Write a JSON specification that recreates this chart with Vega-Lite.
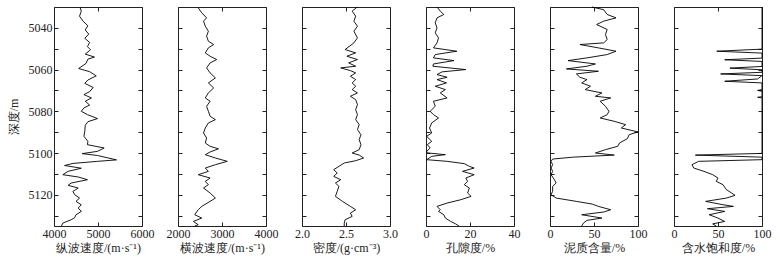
{
"$schema": "https://vega.github.io/schema/vega-lite/v6.json",
"background": "white",
"padding": {"left": 6, "right": 4, "top": 4, "bottom": 5},
"bounds": "flush",
"spacing": 36,
"datasets": {
"vp": [{"d":5030,"v":4590},{"d":5032,"v":4620},{"d":5034.4,"v":4580},{"d":5036.8,"v":4660},{"d":5039,"v":4770},{"d":5041,"v":4710},{"d":5043,"v":4790},{"d":5045,"v":4700},{"d":5047,"v":4810},{"d":5049,"v":4760},{"d":5050.5,"v":4830},{"d":5052.6,"v":4710},{"d":5054,"v":4920},{"d":5055,"v":4770},{"d":5057,"v":4730},{"d":5059.5,"v":4560},{"d":5061,"v":4810},{"d":5063,"v":4960},{"d":5065,"v":4770},{"d":5066.6,"v":4700},{"d":5068.6,"v":4890},{"d":5070.6,"v":4810},{"d":5072,"v":4680},{"d":5073.6,"v":4850},{"d":5075.2,"v":4710},{"d":5077,"v":4810},{"d":5078.4,"v":4680},{"d":5080,"v":4620},{"d":5081.6,"v":4760},{"d":5083.5,"v":4990},{"d":5085,"v":4770},{"d":5086.7,"v":4710},{"d":5089.6,"v":4700},{"d":5092,"v":4680},{"d":5094.4,"v":4770},{"d":5096,"v":4760},{"d":5097.6,"v":5140},{"d":5099.2,"v":4990},{"d":5100.3,"v":4640},{"d":5101.2,"v":4990},{"d":5103.3,"v":5420},{"d":5104,"v":4990},{"d":5105,"v":4430},{"d":5106,"v":4240},{"d":5107.3,"v":4620},{"d":5108.8,"v":4320},{"d":5110.4,"v":4200},{"d":5111.5,"v":4550},{"d":5112.8,"v":4760},{"d":5114.4,"v":4390},{"d":5115.5,"v":4320},{"d":5116.8,"v":4550},{"d":5118.4,"v":4430},{"d":5120,"v":4470},{"d":5121.6,"v":4580},{"d":5123.2,"v":4500},{"d":5124.8,"v":4620},{"d":5126.4,"v":4550},{"d":5128,"v":4620},{"d":5129.6,"v":4500},{"d":5131,"v":4470},{"d":5132,"v":4390},{"d":5133.6,"v":4200},{"d":5135,"v":4170}],
"vs": [{"d":5030.4,"v":2460},{"d":5032.8,"v":2540},{"d":5035.2,"v":2650},{"d":5036.8,"v":2580},{"d":5039.2,"v":2620},{"d":5041.6,"v":2690},{"d":5044,"v":2650},{"d":5046.4,"v":2690},{"d":5048,"v":2810},{"d":5049.6,"v":2690},{"d":5052,"v":2620},{"d":5053.6,"v":2730},{"d":5055.2,"v":2880},{"d":5056.8,"v":2730},{"d":5059.2,"v":2650},{"d":5061.6,"v":2730},{"d":5064,"v":2850},{"d":5066.4,"v":2690},{"d":5068.8,"v":2810},{"d":5071.2,"v":2690},{"d":5073.6,"v":2620},{"d":5075.2,"v":2730},{"d":5077.6,"v":2650},{"d":5080,"v":2690},{"d":5082.4,"v":2730},{"d":5084,"v":2850},{"d":5085.6,"v":2690},{"d":5088,"v":2620},{"d":5090.4,"v":2580},{"d":5092.8,"v":2650},{"d":5095.2,"v":2620},{"d":5096.8,"v":2730},{"d":5098,"v":2920},{"d":5099.5,"v":2730},{"d":5100.8,"v":2620},{"d":5102.4,"v":2850},{"d":5104,"v":3120},{"d":5105.6,"v":2850},{"d":5107.2,"v":2620},{"d":5108.8,"v":2690},{"d":5110.4,"v":2460},{"d":5112,"v":2730},{"d":5113.6,"v":2620},{"d":5115.2,"v":2690},{"d":5116.8,"v":2580},{"d":5119.2,"v":2730},{"d":5121.6,"v":2850},{"d":5123.2,"v":2730},{"d":5125.6,"v":2540},{"d":5127.2,"v":2460},{"d":5129.6,"v":2380},{"d":5131.2,"v":2540},{"d":5132.8,"v":2350},{"d":5134.4,"v":2460},{"d":5135,"v":2380}],
"den": [{"d":5030,"v":2.627},{"d":5032,"v":2.57},{"d":5034.4,"v":2.61},{"d":5036.8,"v":2.59},{"d":5039.2,"v":2.63},{"d":5041.6,"v":2.59},{"d":5044.8,"v":2.63},{"d":5047.2,"v":2.59},{"d":5050.4,"v":2.49},{"d":5052,"v":2.61},{"d":5053.6,"v":2.51},{"d":5055.2,"v":2.63},{"d":5056.8,"v":2.53},{"d":5058.4,"v":2.61},{"d":5059.2,"v":2.44},{"d":5060.5,"v":2.55},{"d":5061.6,"v":2.61},{"d":5063.2,"v":2.55},{"d":5064.8,"v":2.61},{"d":5066.4,"v":2.57},{"d":5068,"v":2.61},{"d":5069.6,"v":2.57},{"d":5071.2,"v":2.63},{"d":5072.8,"v":2.55},{"d":5074.4,"v":2.61},{"d":5076.8,"v":2.63},{"d":5079.2,"v":2.61},{"d":5081.6,"v":2.63},{"d":5084,"v":2.61},{"d":5086.4,"v":2.65},{"d":5088.8,"v":2.63},{"d":5091.2,"v":2.67},{"d":5093.6,"v":2.65},{"d":5096,"v":2.67},{"d":5098.4,"v":2.65},{"d":5100,"v":2.57},{"d":5101,"v":2.65},{"d":5102.4,"v":2.7},{"d":5103.7,"v":2.61},{"d":5104.8,"v":2.48},{"d":5106.4,"v":2.42},{"d":5108,"v":2.36},{"d":5109.6,"v":2.4},{"d":5111.2,"v":2.36},{"d":5112.8,"v":2.44},{"d":5114.4,"v":2.38},{"d":5116,"v":2.42},{"d":5118.4,"v":2.4},{"d":5120.8,"v":2.38},{"d":5123.2,"v":2.46},{"d":5125.6,"v":2.55},{"d":5127.2,"v":2.61},{"d":5128.8,"v":2.55},{"d":5130.4,"v":2.57},{"d":5132,"v":2.49},{"d":5133.6,"v":2.48},{"d":5135,"v":2.48}],
"por": [{"d":5030,"v":5},{"d":5032,"v":6.5},{"d":5033.6,"v":8.1},{"d":5035.2,"v":5},{"d":5037.6,"v":4.2},{"d":5040,"v":5},{"d":5042.4,"v":4.2},{"d":5044.8,"v":5.7},{"d":5047.2,"v":5},{"d":5049.6,"v":3.4},{"d":5051.2,"v":14},{"d":5052.8,"v":4.2},{"d":5054.4,"v":3.4},{"d":5055.7,"v":12.7},{"d":5057.3,"v":3.4},{"d":5058.4,"v":3.1},{"d":5060,"v":18.1},{"d":5061.1,"v":7.3},{"d":5062.4,"v":5},{"d":5063.7,"v":9.6},{"d":5064.8,"v":5},{"d":5066.4,"v":9.3},{"d":5068,"v":4.2},{"d":5069.6,"v":8.8},{"d":5071.2,"v":6.5},{"d":5073.6,"v":9.6},{"d":5075.2,"v":3.4},{"d":5077.6,"v":4.2},{"d":5080,"v":1.9},{"d":5081.6,"v":3.4},{"d":5083.2,"v":5.7},{"d":5085.6,"v":2.6},{"d":5088,"v":1.6},{"d":5090.4,"v":2.6},{"d":5092,"v":0.3},{"d":5094.4,"v":2.6},{"d":5096,"v":0.6},{"d":5097.6,"v":1.9},{"d":5099.2,"v":0.3},{"d":5100,"v":1},{"d":5100.8,"v":8.8},{"d":5101.6,"v":2.6},{"d":5103.2,"v":0.3},{"d":5104,"v":9.6},{"d":5105.1,"v":17.4},{"d":5106.4,"v":19.7},{"d":5107.2,"v":21.9},{"d":5108.8,"v":16.6},{"d":5110.4,"v":21.9},{"d":5112,"v":18.1},{"d":5113.6,"v":18.9},{"d":5115.2,"v":17.4},{"d":5116.8,"v":19.7},{"d":5119.2,"v":18.9},{"d":5120.8,"v":20.5},{"d":5122.4,"v":15.8},{"d":5124,"v":9.6},{"d":5125.6,"v":5},{"d":5127.2,"v":6.5},{"d":5128,"v":5.7},{"d":5129.6,"v":8.1},{"d":5131.2,"v":8.8},{"d":5132.8,"v":11.2},{"d":5134,"v":13.5},{"d":5135,"v":15}],
"sh": [{"d":5030,"v":47.7},{"d":5031.3,"v":61},{"d":5033.6,"v":65},{"d":5035.2,"v":75},{"d":5036.8,"v":61},{"d":5038.4,"v":53},{"d":5040.8,"v":65},{"d":5043.2,"v":63},{"d":5045.6,"v":65},{"d":5047.2,"v":61},{"d":5048,"v":34},{"d":5049.6,"v":55},{"d":5051.2,"v":75},{"d":5052.8,"v":65},{"d":5054.4,"v":42},{"d":5055.7,"v":20.5},{"d":5057.3,"v":51.6},{"d":5058.4,"v":42},{"d":5059.7,"v":18.6},{"d":5060.8,"v":55},{"d":5062.1,"v":30},{"d":5063.7,"v":34},{"d":5064.8,"v":42},{"d":5066.4,"v":36},{"d":5068,"v":46},{"d":5069.6,"v":40},{"d":5071.2,"v":59},{"d":5072.8,"v":51.6},{"d":5073.6,"v":69},{"d":5075.2,"v":57},{"d":5077.6,"v":63},{"d":5080,"v":67},{"d":5081.6,"v":65},{"d":5083.2,"v":57},{"d":5084.8,"v":73},{"d":5086.4,"v":86},{"d":5088,"v":81},{"d":5089.9,"v":100},{"d":5091.2,"v":90},{"d":5093.1,"v":88},{"d":5095.2,"v":79},{"d":5096.8,"v":77},{"d":5098.4,"v":63},{"d":5100,"v":51.6},{"d":5101,"v":73},{"d":5102,"v":26},{"d":5102.9,"v":3},{"d":5104,"v":1.2},{"d":5105.6,"v":3},{"d":5107.2,"v":1.2},{"d":5108.8,"v":3},{"d":5110.4,"v":1.2},{"d":5112.8,"v":5},{"d":5114.4,"v":7},{"d":5116,"v":3},{"d":5118.4,"v":3},{"d":5120,"v":1.2},{"d":5121.6,"v":7},{"d":5123.2,"v":30},{"d":5124.5,"v":48},{"d":5125.6,"v":55},{"d":5127.2,"v":69},{"d":5128.3,"v":61},{"d":5129.6,"v":36},{"d":5131.2,"v":59},{"d":5132.3,"v":42},{"d":5133.6,"v":38},{"d":5135,"v":36}],
"sw": [{"d":5030,"v":100},{"d":5050.2,"v":100},{"d":5051.2,"v":48.6},{"d":5052.1,"v":100},{"d":5054.5,"v":100},{"d":5055.3,"v":57.6},{"d":5056.1,"v":100},{"d":5058.5,"v":100},{"d":5059.3,"v":63.5},{"d":5060.1,"v":100},{"d":5061.3,"v":100},{"d":5062.1,"v":53},{"d":5062.9,"v":100},{"d":5064.5,"v":95},{"d":5065.6,"v":57.6},{"d":5066.4,"v":100},{"d":5069.6,"v":100},{"d":5070,"v":95},{"d":5070.4,"v":100},{"d":5073,"v":100},{"d":5073.3,"v":95},{"d":5073.6,"v":100},{"d":5100.2,"v":100},{"d":5101,"v":24.3},{"d":5102,"v":100},{"d":5103.2,"v":100},{"d":5104,"v":28},{"d":5105.6,"v":20.4},{"d":5107.2,"v":22.4},{"d":5108.8,"v":34},{"d":5110.4,"v":44},{"d":5112,"v":50},{"d":5113.6,"v":48},{"d":5115.2,"v":55.7},{"d":5117.6,"v":59.6},{"d":5119.2,"v":65.5},{"d":5120.3,"v":69.4},{"d":5121.6,"v":59.6},{"d":5123.2,"v":36},{"d":5124.8,"v":55.7},{"d":5125.6,"v":67.5},{"d":5126.7,"v":38},{"d":5128,"v":57.6},{"d":5129.6,"v":40},{"d":5131.2,"v":50},{"d":5132.8,"v":57.6},{"d":5134,"v":44},{"d":5135,"v":48}]
},
"hconcat": [
{"width": 88, "height": 219, "layer": [
 {"data": {"name": "vp"}, "mark": {"type": "line", "color": "black", "strokeWidth": 0.9},
  "encoding": {"x": {"field": "v", "type": "quantitative", "scale": {"domain": [4000, 6000], "nice": false, "zero": false}, "axis": {"orient": "bottom", "values": [4000, 5000, 6000], "format": "d", "title": "纵波速度/(m·s⁻¹)"}},
   "y": {"field": "d", "type": "quantitative", "scale": {"domain": [5030, 5135], "reverse": true, "nice": false, "zero": false}, "axis": {"orient": "left", "values": [5040,5050,5060,5070,5080,5090,5100,5110,5120,5130], "format": "d", "labelExpr": "datum.value % 20 == 0 ? datum.label : ''", "title": "深度/m", "titlePadding": 8}},
   "order": {"field": "d", "type": "quantitative"}}},
 {"data": {"name": "vp"}, "mark": {"type": "line", "strokeOpacity": 0},
  "encoding": {"x": {"field": "v", "type": "quantitative", "axis": {"orient": "top", "values": [4000, 5000, 6000], "labels": false, "title": null}},
   "y": {"field": "d", "type": "quantitative", "axis": {"orient": "right", "values": [5040,5050,5060,5070,5080,5090,5100,5110,5120,5130], "labels": false, "title": null}},
   "order": {"field": "d", "type": "quantitative"}}}
], "resolve": {"axis": {"x": "independent", "y": "independent"}}},
{"width": 88, "height": 219, "layer": [
 {"data": {"name": "vs"}, "mark": {"type": "line", "color": "black", "strokeWidth": 0.9},
  "encoding": {"x": {"field": "v", "type": "quantitative", "scale": {"domain": [2000, 4000], "nice": false, "zero": false}, "axis": {"orient": "bottom", "values": [2000, 3000, 4000], "format": "d", "title": "横波速度/(m·s⁻¹)"}},
   "y": {"field": "d", "type": "quantitative", "scale": {"domain": [5030, 5135], "reverse": true, "nice": false, "zero": false}, "axis": {"orient": "left", "values": [5040,5050,5060,5070,5080,5090,5100,5110,5120,5130], "labels": false, "title": null}},
   "order": {"field": "d", "type": "quantitative"}}},
 {"data": {"name": "vs"}, "mark": {"type": "line", "strokeOpacity": 0},
  "encoding": {"x": {"field": "v", "type": "quantitative", "axis": {"orient": "top", "values": [2000, 3000, 4000], "labels": false, "title": null}},
   "y": {"field": "d", "type": "quantitative", "axis": {"orient": "right", "values": [5040,5050,5060,5070,5080,5090,5100,5110,5120,5130], "labels": false, "title": null}},
   "order": {"field": "d", "type": "quantitative"}}}
], "resolve": {"axis": {"x": "independent", "y": "independent"}}},
{"width": 88, "height": 219, "layer": [
 {"data": {"name": "den"}, "mark": {"type": "line", "color": "black", "strokeWidth": 0.9},
  "encoding": {"x": {"field": "v", "type": "quantitative", "scale": {"domain": [2, 3], "nice": false, "zero": false}, "axis": {"orient": "bottom", "values": [2, 2.5, 3], "format": ".1f", "title": "密度/(g·cm⁻³)"}},
   "y": {"field": "d", "type": "quantitative", "scale": {"domain": [5030, 5135], "reverse": true, "nice": false, "zero": false}, "axis": {"orient": "left", "values": [5040,5050,5060,5070,5080,5090,5100,5110,5120,5130], "labels": false, "title": null}},
   "order": {"field": "d", "type": "quantitative"}}},
 {"data": {"name": "den"}, "mark": {"type": "line", "strokeOpacity": 0},
  "encoding": {"x": {"field": "v", "type": "quantitative", "axis": {"orient": "top", "values": [2, 2.5, 3], "labels": false, "title": null}},
   "y": {"field": "d", "type": "quantitative", "axis": {"orient": "right", "values": [5040,5050,5060,5070,5080,5090,5100,5110,5120,5130], "labels": false, "title": null}},
   "order": {"field": "d", "type": "quantitative"}}}
], "resolve": {"axis": {"x": "independent", "y": "independent"}}},
{"width": 88, "height": 219, "layer": [
 {"data": {"name": "por"}, "mark": {"type": "line", "color": "black", "strokeWidth": 0.9},
  "encoding": {"x": {"field": "v", "type": "quantitative", "scale": {"domain": [0, 40], "nice": false, "zero": false}, "axis": {"orient": "bottom", "values": [0, 20, 40], "format": "d", "title": "孔隙度/%"}},
   "y": {"field": "d", "type": "quantitative", "scale": {"domain": [5030, 5135], "reverse": true, "nice": false, "zero": false}, "axis": {"orient": "left", "values": [5040,5050,5060,5070,5080,5090,5100,5110,5120,5130], "labels": false, "title": null}},
   "order": {"field": "d", "type": "quantitative"}}},
 {"data": {"name": "por"}, "mark": {"type": "line", "strokeOpacity": 0},
  "encoding": {"x": {"field": "v", "type": "quantitative", "axis": {"orient": "top", "values": [0, 20, 40], "labels": false, "title": null}},
   "y": {"field": "d", "type": "quantitative", "axis": {"orient": "right", "values": [5040,5050,5060,5070,5080,5090,5100,5110,5120,5130], "labels": false, "title": null}},
   "order": {"field": "d", "type": "quantitative"}}}
], "resolve": {"axis": {"x": "independent", "y": "independent"}}},
{"width": 88, "height": 219, "layer": [
 {"data": {"name": "sh"}, "mark": {"type": "line", "color": "black", "strokeWidth": 0.9},
  "encoding": {"x": {"field": "v", "type": "quantitative", "scale": {"domain": [0, 100], "nice": false, "zero": false}, "axis": {"orient": "bottom", "values": [0, 50, 100], "format": "d", "title": "泥质含量/%"}},
   "y": {"field": "d", "type": "quantitative", "scale": {"domain": [5030, 5135], "reverse": true, "nice": false, "zero": false}, "axis": {"orient": "left", "values": [5040,5050,5060,5070,5080,5090,5100,5110,5120,5130], "labels": false, "title": null}},
   "order": {"field": "d", "type": "quantitative"}}},
 {"data": {"name": "sh"}, "mark": {"type": "line", "strokeOpacity": 0},
  "encoding": {"x": {"field": "v", "type": "quantitative", "axis": {"orient": "top", "values": [0, 50, 100], "labels": false, "title": null}},
   "y": {"field": "d", "type": "quantitative", "axis": {"orient": "right", "values": [5040,5050,5060,5070,5080,5090,5100,5110,5120,5130], "labels": false, "title": null}},
   "order": {"field": "d", "type": "quantitative"}}}
], "resolve": {"axis": {"x": "independent", "y": "independent"}}},
{"width": 88, "height": 219, "layer": [
 {"data": {"name": "sw"}, "mark": {"type": "line", "color": "black", "strokeWidth": 0.9},
  "encoding": {"x": {"field": "v", "type": "quantitative", "scale": {"domain": [0, 100], "nice": false, "zero": false}, "axis": {"orient": "bottom", "values": [0, 50, 100], "format": "d", "title": "含水饱和度/%"}},
   "y": {"field": "d", "type": "quantitative", "scale": {"domain": [5030, 5135], "reverse": true, "nice": false, "zero": false}, "axis": {"orient": "left", "values": [5040,5050,5060,5070,5080,5090,5100,5110,5120,5130], "labels": false, "title": null}},
   "order": {"field": "d", "type": "quantitative"}}},
 {"data": {"name": "sw"}, "mark": {"type": "line", "strokeOpacity": 0},
  "encoding": {"x": {"field": "v", "type": "quantitative", "axis": {"orient": "top", "values": [0, 50, 100], "labels": false, "title": null}},
   "y": {"field": "d", "type": "quantitative", "axis": {"orient": "right", "values": [5040,5050,5060,5070,5080,5090,5100,5110,5120,5130], "labels": false, "title": null}},
   "order": {"field": "d", "type": "quantitative"}}}
], "resolve": {"axis": {"x": "independent", "y": "independent"}}}
],
"config": {
 "font": "Liberation Serif",
 "view": {"stroke": "#222", "strokeWidth": 1},
 "axis": {"domain": false, "grid": false, "ticks": true, "tickColor": "#222", "tickSize": -4, "tickWidth": 1,
  "labelFont": "Liberation Serif", "labelFontSize": 12, "labelColor": "#222", "labelPadding": 6,
  "labelFlush": false, "labelOverlap": false,
  "titleFont": "Liberation Serif", "titleFontSize": 12, "titleFontWeight": "normal", "titleColor": "#222", "titlePadding": 3}
}
}
